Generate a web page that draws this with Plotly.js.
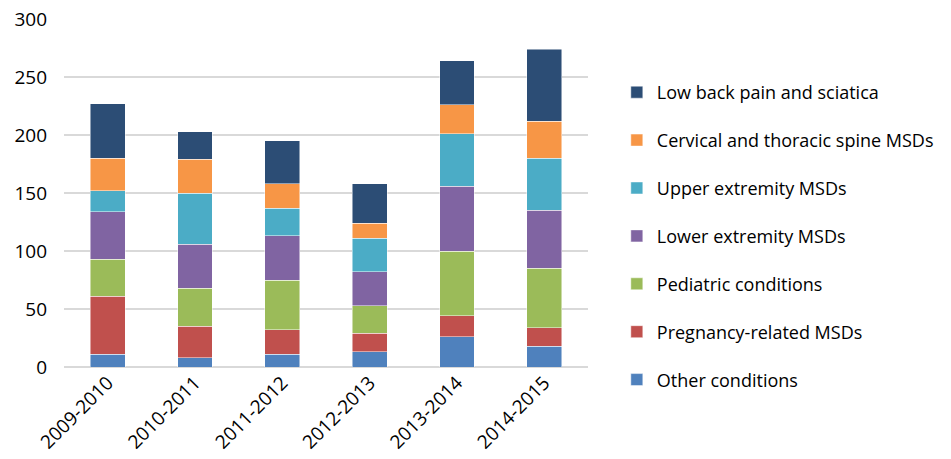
<!DOCTYPE html>
<html><head><meta charset="utf-8">
<script src="https://cdn.plot.ly/plotly-3.0.1.min.js"></script>
<style>body{margin:0;background:#fff}#chart{width:951px;height:459px}</style>
</head><body><div id="chart"></div>
<script>
const categories = ["2009-2010","2010-2011","2011-2012","2012-2013","2013-2014","2014-2015"];
const otherConditions = [11, 8, 11, 13, 26, 18];
const pregnancyMSDs   = [50, 27, 21, 16, 18, 16];
const pediatric       = [32, 33, 43, 24, 56, 51];
const lowerExtremity  = [41, 38, 38, 29, 56, 50];
const upperExtremity  = [18, 44, 24, 29, 45, 45];
const cervicalSpine   = [28, 29, 21, 13, 25, 32];
const lowBack         = [47, 24, 37, 34, 38, 62];
const seriesNames = ["Other conditions","Pregnancy-related MSDs","Pediatric conditions","Lower extremity MSDs","Upper extremity MSDs","Cervical and thoracic spine MSDs","Low back pain and sciatica"];
const seriesValues = [otherConditions, pregnancyMSDs, pediatric, lowerExtremity, upperExtremity, cervicalSpine, lowBack];
const seriesColors = ["#4F81BD","#C0504D","#9BBB59","#8064A2","#4BACC6","#F79646","#2C4D75"];
const yTicks = [0,50,100,150,200,250,300];

const traces = seriesNames.map((n,i)=>({
  type:'bar', name:n, x:categories, y:seriesValues[i],
  legendgroup:'g'+i, legendrank: 100 - i,
  marker:{color:seriesColors[i], line:{color:'rgba(255,255,255,0.6)', width:0.8}},
  hoverinfo:'x+y+name'
}));

const font = "Open Sans, Liberation Sans, sans-serif";
const layout = {
  width:951, height:459,
  margin:{l:64, r:351, t:19, b:92},
  barmode:'stack', bargap:0.6,
  paper_bgcolor:'#fff', plot_bgcolor:'#fff',
  font:{family:font, color:'#000', size:18},
  xaxis:{tickangle:-45, tickfont:{size:19}, showgrid:false, showline:false, ticks:'', automargin:false},
  yaxis:{range:[0,300], tickvals:yTicks, ticktext:yTicks.map(String), showgrid:true, gridcolor:'#D9D9D9', gridwidth:1.5,
         zeroline:true, zerolinecolor:'#D9D9D9', zerolinewidth:1.5, tickfont:{size:19}, ticks:'', automargin:false, ticklabelstandoff:16},
  legend:{x:1.055, xanchor:'left', y:0.842, yanchor:'top', traceorder:'grouped', tracegroupgap:21.5,
          font:{size:18, family:font}, bgcolor:'rgba(0,0,0,0)', itemwidth:30},
  showlegend:true
};
Plotly.newPlot('chart', traces, layout, {displayModeBar:false});
</script></body></html>
